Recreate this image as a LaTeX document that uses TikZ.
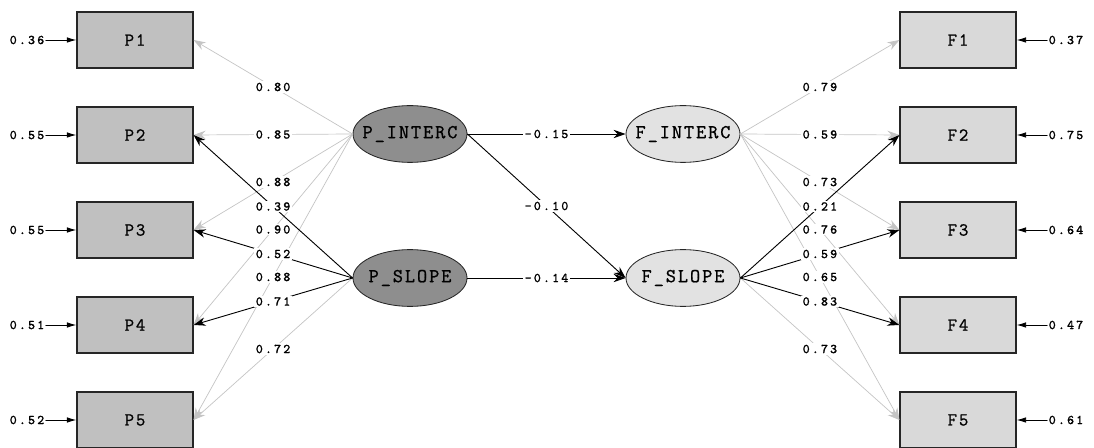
\documentclass[tikz,border=0pt]{standalone}
\usepackage{fontspec}
\newfontfamily\semfont[LetterSpace=10,FakeBold=1]{Latin Modern Mono}
\newfontfamily\coeffont[LetterSpace=16,FakeBold=1.1]{Latin Modern Mono}
\usepackage{tikz}
\usetikzlibrary{arrows.meta,shapes.geometric}
\usepackage{xcolor}
\definecolor{pboxfill}{HTML}{C0C0C0}
\definecolor{fboxfill}{HTML}{D9D9D9}
\definecolor{platfill}{HTML}{8E8E8E}
\definecolor{flatfill}{HTML}{E2E2E2}
\definecolor{fixline}{HTML}{C4C4C4}

\begin{document}
\begin{tikzpicture}[x=0.25mm,y=-0.25mm,>={Stealth[length=3mm,width=2.1mm]},line cap=round,
  obs/.style={draw=black!85,line width=0.8pt,minimum width=29mm,minimum height=14mm,font=\semfont\fontsize{13}{13}\selectfont},
  pobs/.style={obs,fill=pboxfill},
  fobs/.style={obs,fill=fboxfill},
  lat/.style={ellipse,draw=black!85,line width=0.6pt,minimum width=28.5mm,minimum height=14.2mm,inner xsep=-6pt,inner ysep=0pt,font=\semfont\fontsize{14}{14}\selectfont},
  plat/.style={lat,fill=platfill},
  flat/.style={lat,fill=flatfill},
  fixpath/.style={->,draw=fixline,line width=0.5pt},
  freepath/.style={->,draw=black,line width=0.65pt},
  coef/.style={fill=white,inner sep=1pt,font=\coeffont\fontsize{9.5}{9.5}\selectfont},
  errval/.style={inner sep=1pt,font=\coeffont\fontsize{9.5}{9.5}\selectfont},
  errpath/.style={->,>={Latex[length=2.4mm,width=1.4mm]},line width=0.65pt}]
\useasboundingbox (0,0) rectangle (1094,448);

\node[pobs] (p1) at (135,40) {P1};
\node[pobs] (p2) at (135,135) {P2};
\node[pobs] (p3) at (135,230) {P3};
\node[pobs] (p4) at (135,325) {P4};
\node[pobs] (p5) at (135,420) {P5};

\node[fobs] (f1) at (958,40) {F1};
\node[fobs] (f2) at (958,135) {F2};
\node[fobs] (f3) at (958,230) {F3};
\node[fobs] (f4) at (958,325) {F4};
\node[fobs] (f5) at (958,420) {F5};

\node[plat] (pint) at (410,134) {P\_INTERC};
\node[plat] (pslo) at (410,278) {P\_SLOPE};
\node[flat] (fint) at (683,134) {F\_INTERC};
\node[flat] (fslo) at (683,278) {F\_SLOPE};

\node[errval] (ep1) at (27,40) {0.36};
\node[errval] (ep2) at (27,135) {0.55};
\node[errval] (ep3) at (27,230) {0.55};
\node[errval] (ep4) at (27,325) {0.51};
\node[errval] (ep5) at (27,420) {0.52};
\node[errval] (ef1) at (1066,40) {0.37};
\node[errval] (ef2) at (1066,135) {0.75};
\node[errval] (ef3) at (1066,230) {0.64};
\node[errval] (ef4) at (1066,325) {0.47};
\node[errval] (ef5) at (1066,420) {0.61};

\draw[errpath] (ep1.east) -- (p1.west);
\draw[errpath] (ep2.east) -- (p2.west);
\draw[errpath] (ep3.east) -- (p3.west);
\draw[errpath] (ep4.east) -- (p4.west);
\draw[errpath] (ep5.east) -- (p5.west);
\draw[errpath] (ef1.west) -- (f1.east);
\draw[errpath] (ef2.west) -- (f2.east);
\draw[errpath] (ef3.west) -- (f3.east);
\draw[errpath] (ef4.west) -- (f4.east);
\draw[errpath] (ef5.west) -- (f5.east);

\draw[fixpath] (pint.west) -- node[coef] {0.80} (p1.east);
\draw[fixpath] (pint.west) -- node[coef] {0.85} (p2.east);
\draw[fixpath] (pint.west) -- node[coef] {0.88} (p3.east);
\draw[fixpath] (pint.west) -- node[coef] {0.90} (p4.east);
\draw[fixpath] (pint.west) -- node[coef] {0.88} (p5.east);
\draw[fixpath] (pslo.west) -- node[coef] {0.72} (p5.east);
\draw[freepath] (pslo.west) -- node[coef] {0.39} (p2.east);
\draw[freepath] (pslo.west) -- node[coef] {0.52} (p3.east);
\draw[freepath] (pslo.west) -- node[coef] {0.71} (p4.east);

\draw[fixpath] (fint.east) -- node[coef] {0.79} (f1.west);
\draw[fixpath] (fint.east) -- node[coef] {0.59} (f2.west);
\draw[fixpath] (fint.east) -- node[coef] {0.73} (f3.west);
\draw[fixpath] (fint.east) -- node[coef] {0.76} (f4.west);
\draw[fixpath] (fint.east) -- node[coef] {0.65} (f5.west);
\draw[fixpath] (fslo.east) -- node[coef] {0.73} (f5.west);
\draw[freepath] (fslo.east) -- node[coef] {0.21} (f2.west);
\draw[freepath] (fslo.east) -- node[coef] {0.59} (f3.west);
\draw[freepath] (fslo.east) -- node[coef] {0.83} (f4.west);

\draw[freepath] (pint.east) -- node[coef] {-0.15} (fint.west);
\draw[freepath] (pint.east) -- node[coef] {-0.10} (fslo.west);
\draw[freepath] (pslo.east) -- node[coef] {-0.14} (fslo.west);
\end{tikzpicture}
\end{document}
